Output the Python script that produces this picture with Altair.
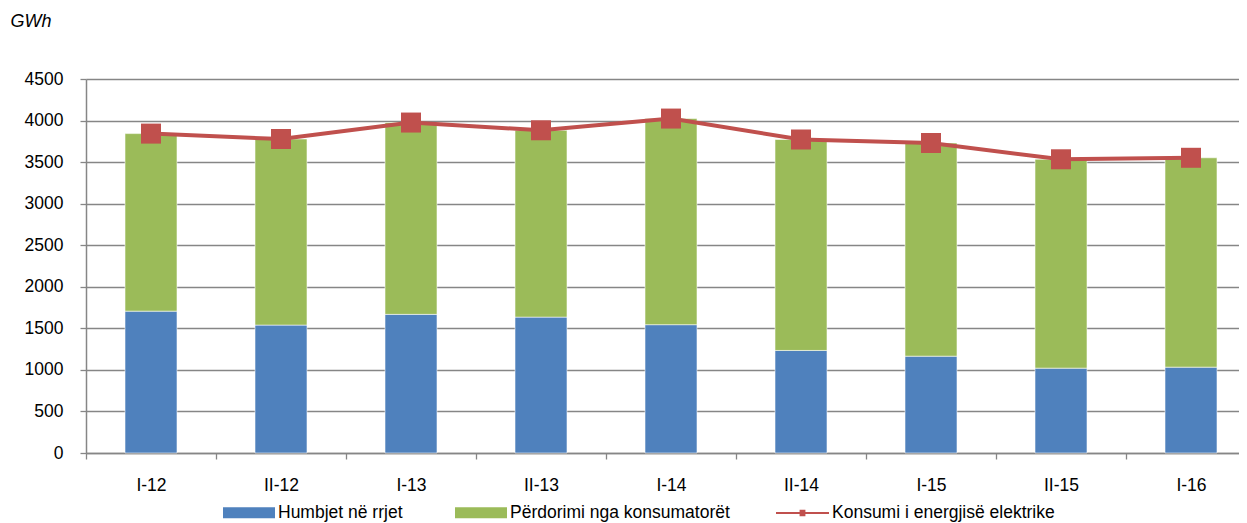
import altair as alt
import pandas as pd

categories = ["I-12", "II-12", "I-13", "II-13", "I-14", "II-14", "I-15", "II-15", "I-16"]
humbjet = [1707, 1539, 1668, 1635, 1544, 1234, 1165, 1021, 1033]
perdorimi = [2136, 2239, 2308, 2248, 2480, 2538, 2565, 2513, 2519]
konsumi = [3843, 3778, 3976, 3883, 4024, 3772, 3730, 3534, 3552]
bar_series = ["Humbjet në rrjet", "Përdorimi nga konsumatorët"]
line_series = ["Konsumi i energjisë elektrike"]
y_ticks = [0, 500, 1000, 1500, 2000, 2500, 3000, 3500, 4000, 4500]

BLUE, GREEN, RED, GRID = "#4F81BD", "#9BBB59", "#C0504D", "#868686"
FONT = "Liberation Sans"
FS = 17.5
W, H = 1153, 374
STEP = 130  # px per category in the reference

rows = []
for i, c in enumerate(categories):
    rows.append({"cat": c, "pos": i + 0.5, "series": bar_series[0], "value": humbjet[i], "ord": 0})
    rows.append({"cat": c, "pos": i + 0.5, "series": bar_series[1], "value": perdorimi[i], "ord": 1})
bars_df = pd.DataFrame(rows)
line_df = pd.DataFrame({
    "cat": categories,
    "pos": [i + 0.5 for i in range(len(categories))],
    "value": konsumi,
    "series": line_series * len(categories),
})

label_expr = "[" + ",".join("'" + c + "'" for c in categories) + "][datum.value]"
xscale = alt.Scale(domain=[0, W / STEP], nice=False, zero=False, padding=0)
yscale = alt.Scale(domain=[0, 4500], nice=False, padding=0)

x_axis = alt.Axis(
    title=None, values=list(range(len(categories))), labelExpr=label_expr, labelOffset=STEP / 2,
    domainColor=GRID, domainWidth=1.5, tickColor=GRID, tickWidth=1.3, tickSize=6,
    labelFont=FONT, labelFontSize=FS, labelColor="#000000", labelPadding=17,
    labelAngle=0, grid=False, labelFlush=False, labelOverlap=False,
)
y_axis = alt.Axis(
    title="GWh", values=y_ticks, format="d", grid=True, gridColor=GRID, gridWidth=1.3,
    domainColor=GRID, domainWidth=1.5, tickColor=GRID, tickWidth=1.3, tickSize=6,
    labelFont=FONT, labelFontSize=FS, labelColor="#000000", labelPadding=17,
    titleAngle=0, titleFont=FONT, titleFontSize=18, titleFontStyle="italic",
    titleFontWeight="normal", titleColor="#000000", titleX=-76, titleY=-57.5,
    titleAlign="left", titleBaseline="middle",
)

x_enc = alt.X("pos:Q", scale=xscale, axis=x_axis)

bars = alt.Chart(bars_df).mark_bar(size=52, stroke="#ffffff", strokeWidth=0.8, strokeOpacity=0.7).encode(
    x=x_enc,
    y=alt.Y("value:Q", scale=yscale, axis=y_axis, stack="zero"),
    fill=alt.Fill(
        "series:N",
        scale=alt.Scale(domain=bar_series, range=[BLUE, GREEN]),
        legend=alt.Legend(
            orient="none", legendX=137, legendY=407.5, direction="horizontal", title=None,
            symbolType="M-1,-0.21H1V0.21H-1Z", symbolSize=2704, symbolStrokeWidth=0,
            symbolOpacity=1, labelFont=FONT, labelFontSize=FS, labelColor="#000000",
            labelOffset=3, columnPadding=52, labelLimit=0,
        ),
    ),
    order=alt.Order("ord:Q"),
)

line = alt.Chart(line_df).mark_line(strokeWidth=4).encode(
    x=x_enc,
    y=alt.Y("value:Q", scale=yscale, axis=y_axis),
    stroke=alt.Stroke(
        "series:N",
        scale=alt.Scale(domain=line_series, range=[RED]),
        legend=alt.Legend(
            orient="none", legendX=690, legendY=407.5, direction="horizontal", title=None,
            symbolType="M-1,-0.035H-0.11V-0.12H0.11V-0.035H1V0.035H0.11V0.12H-0.11V0.035H-1Z",
            symbolSize=2809, symbolFillColor=RED, symbolStrokeWidth=0, symbolOpacity=1,
            labelFont=FONT, labelFontSize=FS, labelColor="#000000", labelOffset=3, labelLimit=0,
        ),
    ),
)

points = alt.Chart(line_df).mark_point(shape="square", filled=True, size=400, color=RED, opacity=1).encode(
    x=x_enc,
    y=alt.Y("value:Q", scale=yscale, axis=y_axis),
)

chart = alt.layer(bars, line, points).properties(
    width=W, height=H,
    autosize=alt.AutoSizeParams(type="none"),
    padding={"left": 78, "top": 71, "right": 0, "bottom": 70},
).configure_view(stroke=None)

chart.save("out.html", embed_options={"renderer": "svg", "actions": False})
